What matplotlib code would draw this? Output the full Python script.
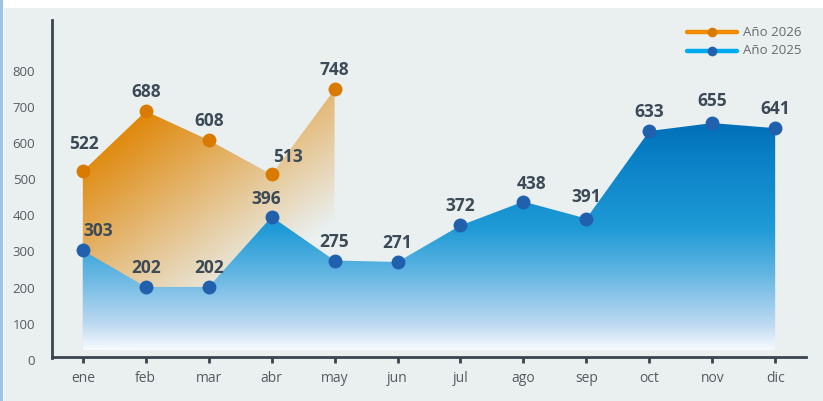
import numpy as np
import matplotlib
matplotlib.use('Agg')
import matplotlib.pyplot as plt
from matplotlib.patches import Polygon, Rectangle
from matplotlib.lines import Line2D

plt.rcParams['font.family'] = ['Open Sans', 'DejaVu Sans']

# ---- data ----
months = ['ene', 'feb', 'mar', 'abr', 'may', 'jun', 'jul', 'ago', 'sep', 'oct', 'nov', 'dic']
values_2026 = [522, 688, 608, 513, 748]
values_2025 = [303, 202, 202, 396, 275, 271, 372, 438, 391, 633, 655, 641]
y_ticks = [0, 100, 200, 300, 400, 500, 600, 700, 800]
series_names = ['Año 2026', 'Año 2025']

# ---- styling ----
W, H = 823, 401
BG = '#eaf0f0'
ORANGE = '#e0880a'
ORANGE_MK = '#d97b00'
ORANGE_LEG = '#f08c00'
BLUE_MK = '#2060ad'
BLUE_LEG = '#00aaf0'
LABEL_C = '#3b4a56'
TICK_C = '#555b60'
AXIS_C = '#3a4550'
YMAX = 940
BASE = 27
SPINE_Y = 8

fig = plt.figure(figsize=(W / 100, H / 100), dpi=100, facecolor=BG)
fig.add_artist(Rectangle((0, 1 - 8 / H), 1, 8 / H, transform=fig.transFigure,
                         facecolor='white', edgecolor='none', zorder=0))
fig.add_artist(Rectangle((0, 0), 3 / W, 1, transform=fig.transFigure,
                         facecolor='#9fc3e6', edgecolor='none', zorder=0))
fig.add_artist(Rectangle((3 / W, 0), 1 / W, 1 - 8 / H, transform=fig.transFigure,
                         facecolor='#f6f9fb', edgecolor='none', zorder=0))

ax = fig.add_axes([52 / W, 1 - 360 / H, (806 - 52) / W, (360 - 20) / H])
ax.set_facecolor('none')
x_all = np.arange(len(months))
x26 = np.arange(len(values_2026))

ax.set_xlim(-0.49, len(months) - 0.51)
ax.set_ylim(0, YMAX)

# ---- orange gradient area ----
nx, ny = 300, 400
gx = np.linspace(-0.5, 4.5, nx)
gy = np.linspace(0, YMAX, ny)
GX, GY = np.meshgrid(gx, gy)
alpha = np.clip(0.167 - 0.185 * GX + 0.0015 * GY, 0, 1)
rgb = np.array(matplotlib.colors.to_rgb(ORANGE))
img_o = np.zeros((ny, nx, 4))
img_o[..., :3] = rgb
img_o[..., 3] = alpha
poly_o = Polygon(list(zip(x26, values_2026)) + [(x26[-1], BASE), (x26[0], BASE)],
                 closed=True, facecolor='none', edgecolor='none')
ax.add_patch(poly_o)
im_o = ax.imshow(img_o, extent=(-0.5, 4.5, 0, YMAX), origin='lower',
                 aspect='auto', interpolation='bilinear', zorder=1)
im_o.set_clip_path(poly_o)

# ---- blue gradient area ----
stops_y = [27, 100, 240, 365, 560, 655, YMAX]
stops_c = ['#f8fbfe', '#bcd9f1', '#62b5e2', '#1e9ad6', '#0a80c6', '#0070b8', '#0070b8']
stops_rgb = np.array([matplotlib.colors.to_rgb(c) for c in stops_c])
gy2 = np.linspace(0, YMAX, 600)
col = np.stack([np.interp(gy2, stops_y, stops_rgb[:, k]) for k in range(3)], axis=1)
img_b = np.ones((600, 2, 4))
img_b[:, :, :3] = col[:, None, :]
poly_b = Polygon(list(zip(x_all, values_2025)) + [(x_all[-1], BASE), (x_all[0], BASE)],
                 closed=True, facecolor='none', edgecolor='none')
ax.add_patch(poly_b)
im_b = ax.imshow(img_b, extent=(-0.5, 11.5, 0, YMAX), origin='lower',
                 aspect='auto', interpolation='bilinear', zorder=2)
im_b.set_clip_path(poly_b)

# ---- markers ----
ax.plot(x26, values_2026, 'o', color=ORANGE_MK, markersize=10, zorder=4,
        markeredgewidth=0)
ax.plot(x_all, values_2025, 'o', color=BLUE_MK, markersize=10, zorder=5,
        markeredgewidth=0)

# ---- value labels ----
offs_2026 = {0: (1, 27), 3: (16, 17)}
offs_2025 = {0: (15, 19), 3: (-5, 18), 7: (8, 18), 8: (0, 22), 10: (0, 22)}
for i, v in enumerate(values_2026):
    dx, dy = offs_2026.get(i, (0, 19))
    ax.annotate(str(v), (x26[i], v), xytext=(dx, dy), textcoords='offset pixels',
                ha='center', va='center', fontsize=12.5, fontweight='bold',
                color=LABEL_C, zorder=6)
for i, v in enumerate(values_2025):
    dx, dy = offs_2025.get(i, (0, 19))
    ax.annotate(str(v), (x_all[i], v), xytext=(dx, dy), textcoords='offset pixels',
                ha='center', va='center', fontsize=12.5, fontweight='bold',
                color=LABEL_C, zorder=6)

# ---- axes ----
for s in ['top', 'right']:
    ax.spines[s].set_visible(False)
for s in ['left', 'bottom']:
    ax.spines[s].set_color(AXIS_C)
    ax.spines[s].set_linewidth(2)
ax.spines['bottom'].set_position(('data', SPINE_Y))
ax.spines['left'].set_bounds(SPINE_Y - 3, YMAX)
ax.set_xticks(x_all)
ax.set_xticklabels(months)
ax.set_yticks(y_ticks)
ax.set_yticklabels([str(t) for t in y_ticks])
ax.tick_params(axis='x', length=4, width=2, color=AXIS_C, labelcolor=TICK_C,
               labelsize=10, pad=6)
ax.tick_params(axis='y', length=0, labelcolor=TICK_C, labelsize=9.5, pad=12)
for lbl in ax.get_yticklabels():
    if lbl.get_text() == '0':
        lbl.set_y(0)

# ---- legend (manual) ----
legend_rows = [(series_names[0], ORANGE_LEG, ORANGE_MK, 32),
               (series_names[1], BLUE_LEG, BLUE_MK, 51)]
for name, lc, mc, py in legend_rows:
    yy = 1 - py / H
    fig.add_artist(Line2D([687 / W, 737 / W], [yy, yy], transform=fig.transFigure,
                          color=lc, linewidth=3.2, solid_capstyle='round'))
    fig.add_artist(Line2D([712 / W], [yy], transform=fig.transFigure, marker='o',
                          color=mc, markersize=7, markeredgewidth=0))
    fig.text(743 / W, yy, name, ha='left', va='center', fontsize=9.5, color='#666a6e')

fig.savefig('out.png', dpi=100, facecolor=BG)
